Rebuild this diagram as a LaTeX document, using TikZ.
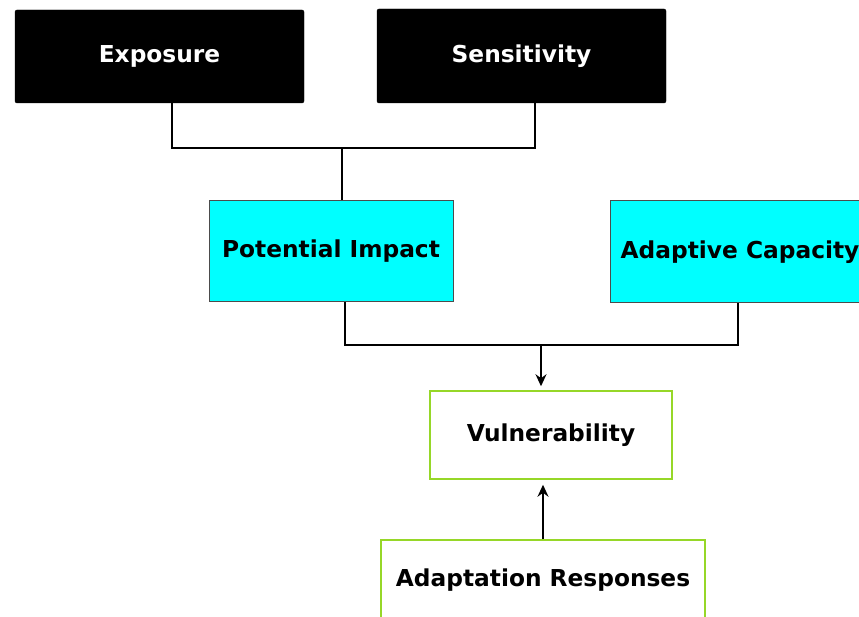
\documentclass[tikz,border=0pt]{standalone}
\usepackage{fontspec}
\setmainfont{DejaVu Sans}
\usetikzlibrary{arrows.meta}
\definecolor{boxline}{RGB}{150,215,40}
\definecolor{aqua}{RGB}{0,255,255}
\tikzset{
  boxfont/.style={font=\fontsize{23.3}{26}\selectfont\bfseries},
  darkbox/.style={rectangle, rounded corners=2pt, fill=black, draw=black, text=white, boxfont},
  cyanbox/.style={rectangle, fill=aqua, draw=black!70, line width=1pt, text=black, boxfont},
  whitebox/.style={rectangle, fill=white, draw=boxline, line width=1.5pt, text=black, boxfont},
  link/.style={draw=black, line width=1.6pt},
  arrowlink/.style={link, -{Stealth[length=12pt,width=11pt]}}
}
\begin{document}
\begin{tikzpicture}[x=1pt, y=-1pt]
  \useasboundingbox (0,0) rectangle (859,617);
  \clip (0,0) rectangle (859,617);

  % top row: the two driving factors
  \node[darkbox, minimum width=289pt, minimum height=93pt] (exp) at (159.5,56.5) {Exposure};
  \node[darkbox, minimum width=289pt, minimum height=94pt] (sens) at (521.5,56) {Sensitivity};

  % middle row
  \node[cyanbox, minimum width=260pt, minimum height=102pt] (adc) at (740,252) {Adaptive Capacity};
  \node[cyanbox, minimum width=244pt, minimum height=101pt] (pot) at (331,251.5) {Potential Impact};

  % outcome and response
  \node[whitebox, minimum width=242pt, minimum height=88pt] (vul) at (551,435) {Vulnerability};
  \node[whitebox, minimum width=324pt, minimum height=80pt] (resp) at (543,580) {Adaptation Responses};

  % junction points of the bracket connectors
  \coordinate (j1) at (342,148);
  \coordinate (j2) at (541,345);

  \draw[link] ([xshift=12.5pt]exp.south) |- (j1) -| ([xshift=13.5pt]sens.south);
  \draw[link] (j1) -- (j1 |- pot.north);

  \draw[link] ([xshift=14pt]pot.south) |- (j2) -| ([xshift=-2pt]adc.south);
  \draw[arrowlink, shorten >=4pt] (j2) -- (j2 |- vul.north);

  \draw[arrowlink, shorten >=5pt] (resp.north) -- (resp.north |- vul.south);
\end{tikzpicture}
\end{document}
